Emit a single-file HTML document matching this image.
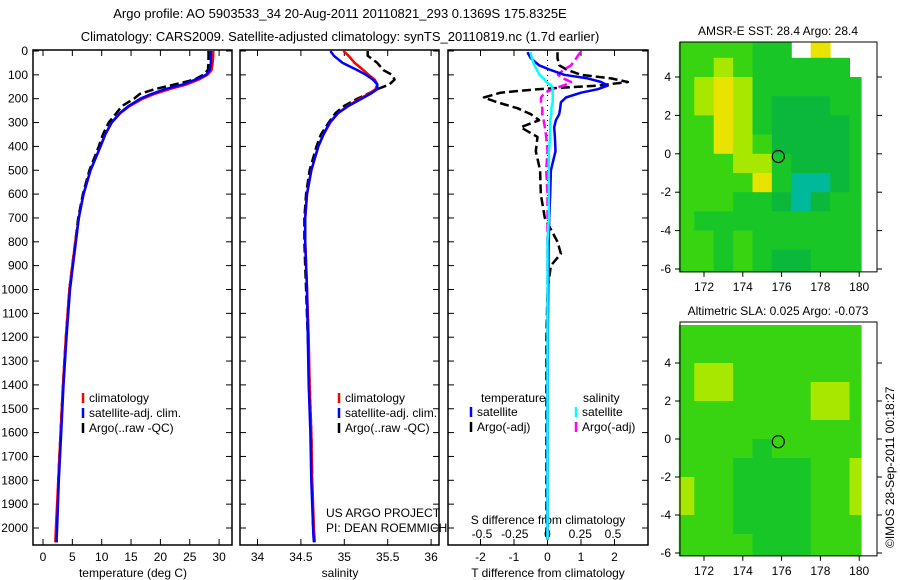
<!DOCTYPE html>
<html><head><meta charset="utf-8"><style>
html,body{margin:0;padding:0;background:#fff;}
svg{display:block;font-family:"Liberation Sans",sans-serif;}
</style></head><body>
<svg id="c" width="900" height="580" viewBox="0 0 900 580">
<text x="340" y="18" text-anchor="middle" font-size="13">Argo profile: AO 5903533_34 20-Aug-2011 20110821_293 0.1369S 175.8325E</text>
<text x="340" y="41" text-anchor="middle" font-size="13">Climatology: CARS2009. Satellite-adjusted climatology: synTS_20110819.nc (1.7d earlier)</text>
<g id="g"></g>
</svg>
<script>
// ---- data ----
const depth=[0,20,50,80,100,120,140,160,180,200,230,260,300,350,400,500,600,700,800,900,1000,1200,1400,1600,1800,2000,2060];
const tempClim=[29.0,29.0,28.9,28.7,28.0,26.5,24.5,21.5,19.0,17.0,14.8,13.2,11.7,10.6,9.8,8.1,6.9,6.1,5.5,5.0,4.5,3.9,3.4,3.0,2.6,2.2,2.1];
const tempSat=[28.6,28.6,28.6,28.4,27.8,26.0,23.8,20.8,18.5,16.6,14.6,13.1,11.7,10.6,9.8,8.1,6.9,6.1,5.6,5.1,4.6,4.0,3.5,3.1,2.7,2.4,2.3];
const tempArgo=[28.2,28.2,28.2,28.1,27.3,25.8,22.5,19.0,16.5,15.5,13.5,12.5,11.2,10.2,9.5,7.9,6.8,6.0,5.5,5.0,4.5,3.9,3.4,3.0,2.6,2.3,2.3];
const salClim=[34.99,35.05,35.12,35.22,35.28,35.35,35.38,35.36,35.28,35.18,35.04,34.93,34.84,34.76,34.70,34.62,34.57,34.55,34.55,34.56,34.57,34.59,34.60,34.62,34.63,34.65,34.66];
const salSat=[34.84,34.88,34.98,35.15,35.25,35.33,35.38,35.38,35.30,35.20,35.05,34.93,34.83,34.76,34.70,34.62,34.57,34.55,34.55,34.56,34.57,34.58,34.59,34.61,34.62,34.64,34.65];
const salArgo=[35.27,35.27,35.38,35.45,35.55,35.58,35.52,35.38,35.27,35.15,35.00,34.90,34.82,34.73,34.68,34.60,34.56,34.54,34.54,34.55,34.56,34.58,34.60,34.62,34.63,34.64,34.65];
const diffDepth=[5,30,60,80,100,115,130,145,160,175,195,215,240,265,290,320,360,420,500,600,700,800,850,900,1000,1200,1500,2000,2050];
const dTsat=[-0.6,-0.5,-0.25,0.1,0.5,1.2,1.6,1.8,1.5,1.0,0.55,0.4,0.38,0.35,0.25,0.2,0.22,0.24,0.1,0.08,0.05,0.04,0.03,0.03,0.02,0.01,0,0,0];
const dTargo=[0.3,0.3,0.35,0.6,1.0,1.9,2.4,1.5,-0.3,-1.4,-1.9,-1.5,-0.9,-0.5,-0.25,-0.8,-0.3,-0.35,-0.22,-0.2,-0.08,0.3,0.4,0.1,0.0,-0.03,-0.03,-0.03,-0.03];
const dSsat=[-0.13,-0.12,-0.10,-0.08,-0.06,-0.03,-0.01,0.03,0.04,0.04,0.04,0.04,0.03,0.03,0.02,0.02,0.02,0.01,0.01,0.01,0.01,0,0,0,0,0,0,0,0];
const dSargo=[0.25,0.22,0.18,0.12,0.08,0.12,0.18,0.12,0.04,-0.02,-0.05,-0.05,-0.04,-0.04,-0.03,-0.02,-0.01,0,-0.01,0,0,0,0,0,0,0,0,0,0];
const depthTicks=[0,100,200,300,400,500,600,700,800,900,1000,1100,1200,1300,1400,1500,1600,1700,1800,1900,2000];
const tempTicks=[0,5,10,15,20,25,30];
const salTicks=[34,34.5,35,35.5,36];
const dTTicks=[-2,-1,0,1,2];
const dSTicks=[-0.5,-0.25,0,0.25,0.5];
const lonTicks=[172,174,176,178,180];
const latTicks=[-6,-4,-2,0,2,4];
// map grids: rows lat 5.5..-5.5, cols lon 171..180 ; 9 = no data
const sstGrid=["3333229599","3343222229","3454222222","3454211122","3354211112","3354311112","3334421112","3333520012","3332210122","3222222222","3323222222","3323211222"];
const slaGrid=["3333333333","3333333333","3443333333","3443333443","3333333443","3333333333","3333233333","3332222334","4332222334","4332222334","3332222333","3333222333"];
// ---- helpers ----
const G=document.getElementById('g');const NS='http://www.w3.org/2000/svg';
function el(t,a,p){const e=document.createElementNS(NS,t);for(const k in a)e.setAttribute(k,a[k]);(p||G).appendChild(e);return e;}
function txt(x,y,s,a,p){const e=el('text',Object.assign({x:x,y:y,'font-size':12},a||{}),p);e.textContent=s;return e;}
const yD=d=>51+d*0.2385;
const xT=t=>43+5.87*t, xS=s=>257.5+86.8*(s-34), xdT=v=>547.5+33.5*v, xdS=v=>547.5+131*v;
const B=545;
function panel(name,x0,x1){
  const g=el('g',{});
  el('rect',{x:x0,y:50,width:x1-x0,height:B-50,fill:'#fff',stroke:'#000','stroke-width':1.5},g);
  depthTicks.forEach(d=>{const y=yD(d);el('line',{x1:x0,x2:x0+6,y1:y,y2:y,stroke:'#000'},g);el('line',{x1:x1-6,x2:x1,y1:y,y2:y,stroke:'#000'},g);});
  return g;
}
function xticks(g,ticks,f,y,lab){ticks.forEach(t=>{const x=f(t);el('line',{x1:x,x2:x,y1:B,y2:B-6,stroke:'#000'},g);el('line',{x1:x,x2:x,y1:50,y2:56,stroke:'#000'},g);if(lab)txt(x,y,String(t),{'text-anchor':'middle'},g);});}
function line(g,name,ds,vs,f,col,dash){const pts=ds.map((d,i)=>f(vs[i]).toFixed(1)+','+yD(d).toFixed(1)).join(' ');const p=el('polyline',{points:pts,fill:'none',stroke:col,'stroke-width':2.5,'stroke-linejoin':'round'},g);if(dash)p.setAttribute('stroke-dasharray','9,4');return p;}
function legend(g,x,y,items){items.forEach((it,i)=>{el('line',{x1:x,x2:x,y1:y+i*15-9,y2:y+i*15+1,stroke:it[1],'stroke-width':2.5},g);const t=txt(x+6,y+i*15,it[0],{},g);});}
// panel 1
const p1=panel('temperature-panel',33,232);
depthTicks.forEach(d=>{txt(28,yD(d)+4,String(d),{'text-anchor':'end'},p1);});
xticks(p1,tempTicks,xT,561,true);
txt(133,577,'temperature (deg C)',{'text-anchor':'middle'},p1);
line(p1,'temp-argo-line',depth,tempArgo,xT,'#000',true);
line(p1,'temp-climatology-line',depth,tempClim,xT,'#f00');
line(p1,'temp-satellite-line',depth,tempSat,xT,'#00f');
legend(p1,83,402,[['climatology','#f00'],['satellite-adj. clim.','#00f'],['Argo(..raw -QC)','#000']]);
// panel 2
const p2=panel('salinity-panel',240,439);
xticks(p2,salTicks,xS,561,true);
txt(340,577,'salinity',{'text-anchor':'middle'},p2);
line(p2,'sal-argo-line',depth,salArgo,xS,'#000',true);
line(p2,'sal-climatology-line',depth,salClim,xS,'#f00');
line(p2,'sal-satellite-line',depth,salSat,xS,'#00f');
legend(p2,339,402,[['climatology','#f00'],['satellite-adj. clim.','#00f'],['Argo(..raw -QC)','#000']]);
txt(326,517,'US ARGO PROJECT',{},p2);txt(326,532,'PI: DEAN ROEMMICH',{},p2);
// panel 3
const p3=panel('difference-panel',448,648);
xticks(p3,dTTicks,xdT,561,true);
dSTicks.forEach(t=>{txt(xdS(t),538,String(t),{'text-anchor':'middle'},p3);});
txt(548,524,'S difference from climatology',{'text-anchor':'middle'},p3);
txt(548,577,'T difference from climatology',{'text-anchor':'middle'},p3);
el('line',{x1:xdT(0),x2:xdT(0),y1:50,y2:B,stroke:'#000','stroke-dasharray':'1,4'},p3);
line(p3,'dT-argo-line',diffDepth,dTargo,xdT,'#000',true);
line(p3,'dS-argo-line',diffDepth,dSargo,xdS,'#f0f',true);
line(p3,'dT-satellite-line',diffDepth,dTsat,xdT,'#00f');
line(p3,'dS-satellite-line',diffDepth,dSsat,xdS,'#0ff');
txt(481,402,'temperature',{},p3);txt(583,402,'salinity',{},p3);
legend(p3,471,416,[['satellite','#00f'],['Argo(-adj)','#000']]);
legend(p3,576,416,[['satellite','#0ff'],['Argo(-adj)','#f0f']]);
// maps
const pal=['#00b89a','#0cb83c','#18c628','#38d412','#a8e800','#e8e400','#e07a00'];
function map(name,title,grid,top,lat0y,sc){
  const g=el('g',{});
  const lx=v=>704+(v-172)*19.4, ly=v=>lat0y-v*sc;
  const bottom=ly(-6.15);
  txt(778,top-7,title,{'text-anchor':'middle'},g);
  el('rect',{x:680,y:top,width:197,height:bottom-top,fill:'#fff'},g);
  grid.forEach((row,r)=>{for(let c=0;c<row.length;c++){const v=+row[c];if(v===9)continue;
    const lonA=Math.max(170.7,170.5+c), lonB=Math.min(180.1,171.5+c);
    const y1=Math.max(top,ly(6-r)), y2=Math.min(bottom,ly(5-r)+(r==11?8:0));
    const cell=el('rect',{x:lx(lonA).toFixed(1),y:y1.toFixed(1),width:(lx(lonB)-lx(lonA)+0.5).toFixed(1),height:(y2-y1+0.5).toFixed(1),fill:pal[v]},g);
    }});
  el('rect',{x:680,y:top,width:197,height:bottom-top,fill:'none',stroke:'#000'},g);
  el('circle',{cx:lx(175.83),cy:ly(-0.14),r:6,fill:'none',stroke:'#000','stroke-width':1.2},g);
  lonTicks.forEach(v=>{el('line',{x1:lx(v),x2:lx(v),y1:bottom,y2:bottom+5,stroke:'#000'},g);txt(lx(v),bottom+19,String(v),{'text-anchor':'middle'},g);});
  latTicks.forEach(v=>{const y=ly(v);if(y<top)return;el('line',{x1:675,x2:680,y1:y,y2:y,stroke:'#000'},g);el('line',{x1:877,x2:882,y1:y,y2:y,stroke:'#000'},g);txt(671,y+4,String(v),{'text-anchor':'end'},g);});
}
map('sst-map','AMSR-E SST: 28.4 Argo: 28.4',sstGrid,42,153.8,19.2);
map('sla-map','Altimetric SLA: 0.025 Argo: -0.073',slaGrid,322,439,19);
const r=txt(0,0,'©IMOS 28-Sep-2011 00:18:27',{transform:'translate(894,548) rotate(-90)'});

</script>
</body></html>
